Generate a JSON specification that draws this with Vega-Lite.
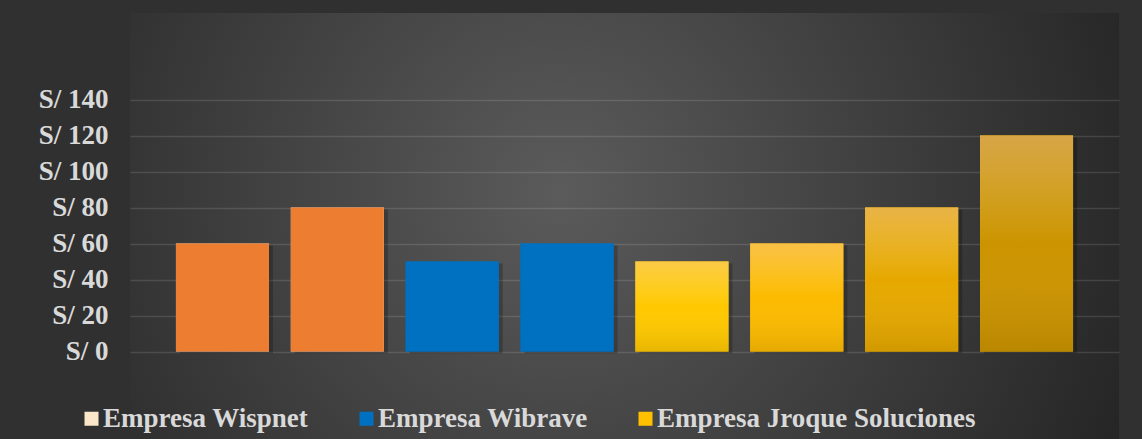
{
  "$schema": "https://vega.github.io/schema/vega-lite/v6.json",
  "autosize": {"type": "none"},
  "padding": {"left": 130, "top": 13, "right": 23, "bottom": 0},
  "width": 989,
  "height": 426,
  "background": "#303030",
  "data": {
    "values": [
      {"periodo": "P1", "empresa": "Empresa Wispnet", "monto": 60},
      {"periodo": "P2", "empresa": "Empresa Wispnet", "monto": 80},
      {"periodo": "P3", "empresa": "Empresa Wibrave", "monto": 50},
      {"periodo": "P4", "empresa": "Empresa Wibrave", "monto": 60},
      {"periodo": "P5", "empresa": "Empresa Jroque Soluciones", "monto": 50},
      {"periodo": "P6", "empresa": "Empresa Jroque Soluciones", "monto": 60},
      {"periodo": "P7", "empresa": "Empresa Jroque Soluciones", "monto": 80},
      {"periodo": "P8", "empresa": "Empresa Jroque Soluciones", "monto": 120}
    ]
  },
  "encoding": {
    "x": {
      "field": "periodo",
      "type": "nominal",
      "sort": null,
      "axis": null,
      "scale": {"paddingInner": 0.19, "paddingOuter": 0.4}
    },
    "y": {
      "field": "monto",
      "type": "quantitative",
      "scale": {"domain": [-48.6, 188.1], "nice": false, "zero": false},
      "axis": {
        "values": [0, 20, 40, 60, 80, 100, 120, 140],
        "labelExpr": "'S/ ' + datum.value",
        "title": null
      }
    }
  },
  "layer": [
    {
      "mark": {"type": "bar", "color": "#000000", "opacity": 0.22, "xOffset": 4, "yOffset": 2}
    },
    {
      "mark": {"type": "bar"},
      "encoding": {
        "color": {
          "field": "empresa",
          "type": "nominal",
          "scale": {
            "domain": ["Empresa Wispnet", "Empresa Wibrave", "Empresa Jroque Soluciones"],
            "range": ["#FAE6C8", "#0070C0", "#FFC000"]
          },
          "legend": {"title": null}
        }
      }
    },
    {
      "mark": {"type": "bar"},
      "encoding": {
        "fill": {
          "field": "periodo",
          "type": "nominal",
          "scale": {
            "domain": ["P1", "P2", "P3", "P4", "P5", "P6", "P7", "P8"],
            "range": ["#ED7D31", "#ED7D31", "#0070C0", "#0070C0", "#FFC800", "#FCBA00", "#E6A800", "#CC9400"]
          },
          "legend": null
        }
      }
    },
    {
      "transform": [{"filter": "datum.empresa === 'Empresa Jroque Soluciones'"}],
      "mark": {
        "type": "bar",
        "fill": {
          "gradient": "linear",
          "x1": 0, "y1": 0, "x2": 0, "y2": 1,
          "stops": [
            {"offset": 0, "color": "rgba(240,205,235,0.3)"},
            {"offset": 0.5, "color": "rgba(255,255,255,0)"},
            {"offset": 1, "color": "rgba(0,0,0,0.09)"}
          ]
        }
      }
    }
  ],
  "config": {
    "font": "Liberation Serif",
    "view": {
      "stroke": null,
      "fill": {
        "gradient": "radial",
        "x1": 0.435, "y1": 0.464, "r1": 0,
        "x2": 0.435, "y2": 0.464, "r2": 0.61,
        "stops": [
          {"offset": 0, "color": "#5b5b5b"},
          {"offset": 1, "color": "#262626"}
        ]
      }
    },
    "axisY": {
      "labelFont": "Liberation Serif",
      "labelFontSize": 27,
      "labelFontWeight": "bold",
      "labelColor": "#D9D9D9",
      "labelPadding": 22,
      "ticks": false,
      "tickSize": 0,
      "domain": false,
      "grid": true,
      "gridColor": "#FFFFFF",
      "gridOpacity": 0.12,
      "gridWidth": 1.5
    },
    "legend": {
      "orient": "none",
      "legendX": -52,
      "legendY": 392,
      "direction": "horizontal",
      "labelFont": "Liberation Serif",
      "labelFontSize": 27,
      "labelFontWeight": "bold",
      "labelColor": "#D9D9D9",
      "labelLimit": 500,
      "labelOffset": -2,
      "symbolType": "square",
      "symbolSize": 196,
      "symbolStrokeWidth": 0,
      "symbolOpacity": 1,
      "columnPadding": 44
    }
  }
}
